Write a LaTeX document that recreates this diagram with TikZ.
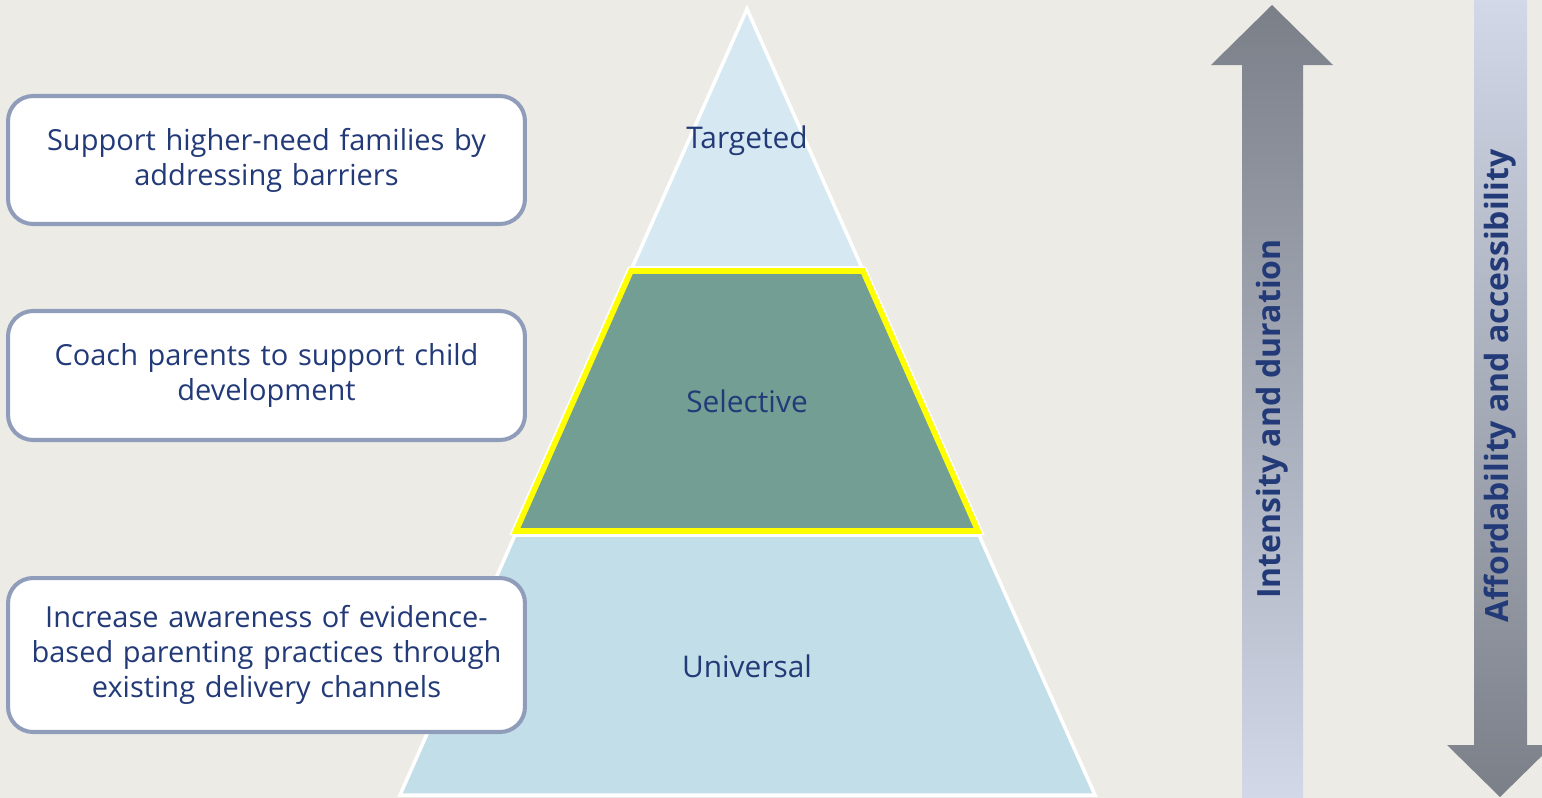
\documentclass[tikz,border=0pt]{standalone}
\usepackage{fontspec}
\setmainfont{Open Sans}
\usetikzlibrary{positioning}
\definecolor{bgcol}{HTML}{ECEBE6}
\definecolor{navy}{HTML}{233A78}
\definecolor{boxline}{HTML}{909DBA}
\definecolor{tiertop}{HTML}{D6E9F2}
\definecolor{tiermid}{HTML}{729E94}
\definecolor{tierlow}{HTML}{C2DEE8}
\definecolor{arrdark}{HTML}{7A7F88}
\definecolor{arrlight}{HTML}{D2D8E8}
\definecolor{hiyellow}{HTML}{FFFF00}
\begin{document}
\begin{tikzpicture}
    [x=0.02cm, y=-0.02cm,
      goal/.style={draw=boxline, line width=2.3pt, fill=white, rounded corners=0.5cm,
        text width=9.74cm, inner xsep=0.3cm, align=center, text=navy,
        font=\fontsize{16.5}{19.8}\selectfont},
      tier/.style={draw=white, line width=2pt},
      tierlabel/.style={text=navy, font=\fontsize{17}{20}\selectfont},
      axislabel/.style={rotate=90, text=navy, font=\fontsize{18.2}{22}\selectfont\bfseries}]
    \fill[bgcol] (0,0) rectangle (1542,798);
    \useasboundingbox (0,0) rectangle (1542,798);
    % pyramid tiers
    \path[tier, fill=tiertop] (747,9) -- (862,268) -- (632,268) -- cycle;
    \path[tier, fill=tierlow] (515,535) -- (979,535) -- (1095,795) -- (400,795) -- cycle;
    \path[draw=white, line width=5pt] (631,271) -- (863,271) -- (978,531) -- (516,531) -- cycle;
    \path[fill=tiermid, draw=hiyellow, line width=3.2pt] (631,271) -- (863,271) -- (978,531) -- (516,531) -- cycle;
    \node[tierlabel] (targeted) at (747,141) {Targeted};
    \node[tierlabel] (selective) at (747,401) {Selective};
    \node[tierlabel] (universal) at (747,666) {Universal};
    % goals
    \node[goal, minimum height=2.56cm] (goaltop) at (266.5,160)
      {Support higher-need families by\\addressing barriers};
    \node[goal, minimum height=2.58cm] (goalmid) at (266.5,375.5)
      {Coach parents to support child\\development};
    \node[goal, minimum height=3.08cm] (goallow) at (266.5,655)
      {Increase awareness of evidence-\\based parenting practices through\\existing delivery channels};
    % axis arrows
    \shade[top color=arrdark, bottom color=arrlight]
      (1272,5) -- (1333,65) -- (1303,65) -- (1303,798) -- (1242,798) -- (1242,65) -- (1211,65) -- cycle;
    \shade[top color=arrlight, bottom color=arrdark]
      (1474,0) -- (1527,0) -- (1527,745) -- (1553,745) -- (1500,797) -- (1447,745) -- (1474,745) -- cycle;
    \node[axislabel] (intensity) at (1272,419) {Intensity and duration};
    \node[axislabel] (afford) at (1500,386) {Affordability and accessibility};
\end{tikzpicture}
\end{document}
